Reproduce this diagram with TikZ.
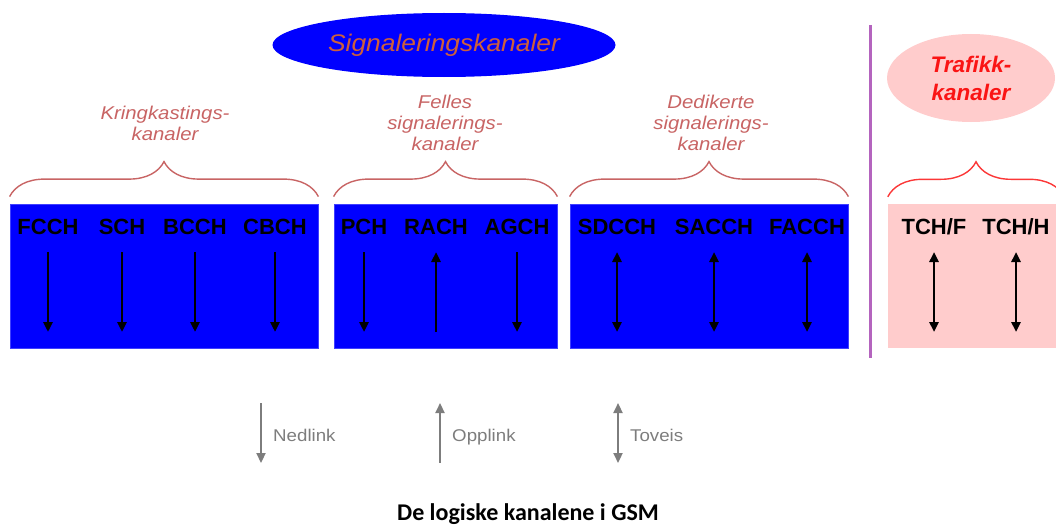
\documentclass[tikz,border=0pt]{standalone}
\usepackage{fontspec}
\setmainfont{Liberation Sans}
\newfontfamily\widesans[FakeStretch=1.1]{Liberation Sans}
\newfontfamily\titlefont{Carlito}
\usetikzlibrary{arrows.meta,shapes.geometric,decorations.pathreplacing}

\definecolor{sigblue}{RGB}{0,0,255}
\definecolor{sigtext}{RGB}{205,95,60}
\definecolor{grptext}{RGB}{200,100,100}
\definecolor{trafpink}{RGB}{255,204,204}
\definecolor{trafred}{RGB}{250,20,20}
\definecolor{divpurple}{RGB}{180,100,190}
\definecolor{leggray}{RGB}{125,125,125}

\begin{document}
\begin{tikzpicture}[
  x=1pt, y=-1pt,
  blk/.style={fill=sigblue, draw=sigblue!75!white, line width=0.8pt,
              minimum width=#1, minimum height=144pt, inner sep=0pt},
  trf/.style={fill=trafpink, draw=none,
              minimum width=#1, minimum height=144pt, inner sep=0pt},
  chan/.style={font=\bfseries\fontsize{22}{22}\selectfont, anchor=base, inner sep=0pt},
  grp/.style={font=\widesans\itshape\fontsize{18.5}{21}\selectfont,
              text=grptext, align=center, inner sep=0pt},
  brc/.style={decorate, decoration={brace, amplitude=35pt}, line width=1.4pt},
  arrdn/.style={-{Triangle[length=10pt,width=9pt]}, line width=2.8pt},
  arrup/.style={{Triangle[length=10pt,width=9pt]}-, line width=2.8pt},
  arrbi/.style={{Triangle[length=10pt,width=9pt]}-{Triangle[length=10pt,width=9pt]}, line width=2.8pt},
  leg/.style={font=\widesans\fontsize{17}{17}\selectfont, text=leggray, anchor=base west, inner sep=0pt},
]

  \useasboundingbox (0,0) rectangle (1056,527);
  \clip (0,0) rectangle (1056,527);

  % --- Headings ---
  \node[ellipse, fill=sigblue, minimum width=343pt, minimum height=64pt,
        font=\widesans\itshape\fontsize{24}{24}\selectfont, text=sigtext]
    (sig) at (444,45) {Signaleringskanaler};
  \node[ellipse, fill=trafpink, minimum width=168pt, minimum height=88pt,
        font=\bfseries\itshape\fontsize{22.5}{28}\selectfont, text=trafred, align=center]
    (trf) at (971,78) {Trafikk-\\kanaler};

  % --- Divider ---
  \coordinate (divtop) at (870,25);
  \coordinate (divbot) at (870,358);
  \draw[divpurple, line width=3pt] (divtop) -- (divbot);

  % --- Channel groups ---
  \node[blk=308pt] (b1) at (164,276) {};
  \node[blk=223pt] (b2) at (445.5,276) {};
  \node[blk=278pt] (b3) at (709,276) {};
  \node[trf=176pt] (b4) at (976,276) {};

  \node[grp] (g1) at (165,123) {Kringkastings-\\kanaler};
  \node[grp] (g2) at (445,123) {Felles\\signalerings-\\kanaler};
  \node[grp] (g3) at (711,123) {Dedikerte\\signalerings-\\kanaler};

  \foreach \b in {b1,b2,b3}
    \draw[brc, grptext] ([yshift=7pt]\b.north west) -- ([yshift=7pt]\b.north east);
  \draw[brc, trafred!85!white] ([yshift=7pt]b4.north west) -- ([yshift=7pt]b4.north east);

  % --- Logical channels with direction ---
  \foreach \id/\name/\x/\dir in {
      fcch/FCCH/48/arrdn, sch/SCH/122/arrdn, bcch/BCCH/195/arrdn, cbch/CBCH/275/arrdn,
      pch/PCH/364/arrdn, rach/RACH/436/arrup, agch/AGCH/517/arrdn,
      sdcch/SDCCH/617/arrbi, sacch/SACCH/714/arrbi, facch/FACCH/807/arrbi,
      tchf/{TCH/F}/934/arrbi, tchh/{TCH/H}/1016/arrbi} {
    \node[chan] (\id) at (\x,234) {\name};
    \coordinate (\id-t) at (\x,252);
    \coordinate (\id-b) at (\x,332);
    \draw[\dir] (\id-t) -- (\id-b);
  }

  % --- Legend ---
  \foreach \id/\txt/\x/\dir in {ned/Nedlink/261/arrdn, opp/Opplink/440/arrup, tov/Toveis/618/arrbi} {
    \coordinate (\id-t) at (\x,403);
    \coordinate (\id-b) at (\x,463);
    \draw[\dir, leggray, line width=2.2pt] (\id-t) -- (\id-b);
    \node[leg] (\id) at (\x+12,441) {\txt};
  }

  % --- Caption ---
  \node[font=\titlefont\bfseries\fontsize{24}{24}\selectfont, anchor=base, inner sep=0pt]
    (title) at (528,520) {De logiske kanalene i GSM};

\end{tikzpicture}
\end{document}
